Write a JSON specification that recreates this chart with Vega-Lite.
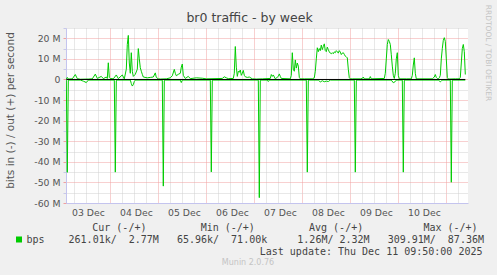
{
  "$schema": "https://vega.github.io/schema/vega-lite/v6.json",
  "width": 402,
  "height": 175,
  "autosize": {"type": "none"},
  "padding": {"left": 66, "top": 28, "right": 29, "bottom": 72},
  "background": "#f0f0f0",
  "title": {"text": "Munin 2.0.76", "orient": "bottom", "anchor": "middle", "frame": "group", "dx": -19, "offset": 3, "font": "DejaVu Sans", "fontSize": 8, "fontWeight": "normal", "color": "#c4c4c4"},
  "config": {
    "font": "DejaVu Sans",
    "view": {"fill": "white", "stroke": null}
  },
  "resolve": {"axis": {"x": "independent", "y": "independent"}},
  "layer": [
    {
      "data": {"values": [
        {"time":"2025-12-03T02:00:00Z","dir":"out","mbps":0.3},
        {"time":"2025-12-03T02:30:00Z","dir":"out","mbps":1.0},
        {"time":"2025-12-03T03:00:00Z","dir":"out","mbps":0.2},
        {"time":"2025-12-03T05:00:00Z","dir":"out","mbps":0.3},
        {"time":"2025-12-03T06:30:00Z","dir":"out","mbps":2.4},
        {"time":"2025-12-03T07:30:00Z","dir":"out","mbps":0.4},
        {"time":"2025-12-03T09:00:00Z","dir":"out","mbps":0.1},
        {"time":"2025-12-03T13:00:00Z","dir":"out","mbps":0.2},
        {"time":"2025-12-03T15:00:00Z","dir":"out","mbps":0.3},
        {"time":"2025-12-03T16:30:00Z","dir":"out","mbps":2.6},
        {"time":"2025-12-03T17:30:00Z","dir":"out","mbps":0.5},
        {"time":"2025-12-03T19:30:00Z","dir":"out","mbps":1.5},
        {"time":"2025-12-03T20:30:00Z","dir":"out","mbps":0.4},
        {"time":"2025-12-03T22:00:00Z","dir":"out","mbps":1.2},
        {"time":"2025-12-03T22:30:00Z","dir":"out","mbps":0.5},
        {"time":"2025-12-03T23:00:00Z","dir":"out","mbps":8.1},
        {"time":"2025-12-03T23:30:00Z","dir":"out","mbps":1.0},
        {"time":"2025-12-04T00:00:00Z","dir":"out","mbps":0.5},
        {"time":"2025-12-04T01:30:00Z","dir":"out","mbps":0.3},
        {"time":"2025-12-04T03:00:00Z","dir":"out","mbps":2.2},
        {"time":"2025-12-04T04:00:00Z","dir":"out","mbps":0.4},
        {"time":"2025-12-04T06:00:00Z","dir":"out","mbps":2.2},
        {"time":"2025-12-04T07:00:00Z","dir":"out","mbps":0.3},
        {"time":"2025-12-04T08:00:00Z","dir":"out","mbps":5},
        {"time":"2025-12-04T08:30:00Z","dir":"out","mbps":17},
        {"time":"2025-12-04T09:00:00Z","dir":"out","mbps":21.4},
        {"time":"2025-12-04T09:30:00Z","dir":"out","mbps":8},
        {"time":"2025-12-04T10:00:00Z","dir":"out","mbps":3},
        {"time":"2025-12-04T10:30:00Z","dir":"out","mbps":13},
        {"time":"2025-12-04T11:00:00Z","dir":"out","mbps":4},
        {"time":"2025-12-04T11:30:00Z","dir":"out","mbps":1.5},
        {"time":"2025-12-04T12:30:00Z","dir":"out","mbps":2.5},
        {"time":"2025-12-04T13:30:00Z","dir":"out","mbps":5},
        {"time":"2025-12-04T14:00:00Z","dir":"out","mbps":15},
        {"time":"2025-12-04T14:30:00Z","dir":"out","mbps":10},
        {"time":"2025-12-04T15:00:00Z","dir":"out","mbps":5.7},
        {"time":"2025-12-04T15:30:00Z","dir":"out","mbps":4},
        {"time":"2025-12-04T16:00:00Z","dir":"out","mbps":2.5},
        {"time":"2025-12-04T16:30:00Z","dir":"out","mbps":1.2},
        {"time":"2025-12-04T18:30:00Z","dir":"out","mbps":0.8},
        {"time":"2025-12-04T20:00:00Z","dir":"out","mbps":1.0},
        {"time":"2025-12-04T21:30:00Z","dir":"out","mbps":1.2},
        {"time":"2025-12-04T22:30:00Z","dir":"out","mbps":3.2},
        {"time":"2025-12-04T23:00:00Z","dir":"out","mbps":1.0},
        {"time":"2025-12-05T00:00:00Z","dir":"out","mbps":0.3},
        {"time":"2025-12-05T01:00:00Z","dir":"out","mbps":0.2},
        {"time":"2025-12-05T04:00:00Z","dir":"out","mbps":0.3},
        {"time":"2025-12-05T06:00:00Z","dir":"out","mbps":0.8},
        {"time":"2025-12-05T07:00:00Z","dir":"out","mbps":1.8},
        {"time":"2025-12-05T08:00:00Z","dir":"out","mbps":4.9},
        {"time":"2025-12-05T08:30:00Z","dir":"out","mbps":3},
        {"time":"2025-12-05T09:00:00Z","dir":"out","mbps":1.8},
        {"time":"2025-12-05T10:00:00Z","dir":"out","mbps":2.5},
        {"time":"2025-12-05T11:00:00Z","dir":"out","mbps":3},
        {"time":"2025-12-05T11:30:00Z","dir":"out","mbps":6},
        {"time":"2025-12-05T12:00:00Z","dir":"out","mbps":7.5},
        {"time":"2025-12-05T12:30:00Z","dir":"out","mbps":2},
        {"time":"2025-12-05T13:30:00Z","dir":"out","mbps":0.5},
        {"time":"2025-12-05T15:00:00Z","dir":"out","mbps":1.5},
        {"time":"2025-12-05T16:00:00Z","dir":"out","mbps":0.4},
        {"time":"2025-12-05T19:00:00Z","dir":"out","mbps":0.8},
        {"time":"2025-12-05T22:00:00Z","dir":"out","mbps":0.6},
        {"time":"2025-12-06T00:00:00Z","dir":"out","mbps":0.3},
        {"time":"2025-12-06T08:00:00Z","dir":"out","mbps":0.5},
        {"time":"2025-12-06T09:00:00Z","dir":"out","mbps":1.3},
        {"time":"2025-12-06T10:00:00Z","dir":"out","mbps":0.8},
        {"time":"2025-12-06T11:00:00Z","dir":"out","mbps":0.4},
        {"time":"2025-12-06T13:30:00Z","dir":"out","mbps":0.5},
        {"time":"2025-12-06T14:00:00Z","dir":"out","mbps":3},
        {"time":"2025-12-06T14:30:00Z","dir":"out","mbps":16},
        {"time":"2025-12-06T15:00:00Z","dir":"out","mbps":6},
        {"time":"2025-12-06T15:30:00Z","dir":"out","mbps":1.5},
        {"time":"2025-12-06T16:00:00Z","dir":"out","mbps":4},
        {"time":"2025-12-06T16:30:00Z","dir":"out","mbps":3.5},
        {"time":"2025-12-06T17:00:00Z","dir":"out","mbps":4.6},
        {"time":"2025-12-06T17:30:00Z","dir":"out","mbps":2},
        {"time":"2025-12-06T18:00:00Z","dir":"out","mbps":3},
        {"time":"2025-12-06T18:30:00Z","dir":"out","mbps":4.4},
        {"time":"2025-12-06T19:00:00Z","dir":"out","mbps":2},
        {"time":"2025-12-06T19:30:00Z","dir":"out","mbps":1.3},
        {"time":"2025-12-06T20:30:00Z","dir":"out","mbps":1.0},
        {"time":"2025-12-06T21:30:00Z","dir":"out","mbps":1.2},
        {"time":"2025-12-06T23:00:00Z","dir":"out","mbps":0.3},
        {"time":"2025-12-07T01:00:00Z","dir":"out","mbps":0.2},
        {"time":"2025-12-07T04:00:00Z","dir":"out","mbps":0.3},
        {"time":"2025-12-07T08:00:00Z","dir":"out","mbps":0.5},
        {"time":"2025-12-07T08:30:00Z","dir":"out","mbps":2.4},
        {"time":"2025-12-07T09:00:00Z","dir":"out","mbps":1.5},
        {"time":"2025-12-07T09:30:00Z","dir":"out","mbps":2.2},
        {"time":"2025-12-07T10:30:00Z","dir":"out","mbps":0.3},
        {"time":"2025-12-07T12:00:00Z","dir":"out","mbps":1.5},
        {"time":"2025-12-07T12:30:00Z","dir":"out","mbps":2.7},
        {"time":"2025-12-07T13:00:00Z","dir":"out","mbps":1.5},
        {"time":"2025-12-07T13:30:00Z","dir":"out","mbps":0.5},
        {"time":"2025-12-07T18:00:00Z","dir":"out","mbps":0.3},
        {"time":"2025-12-07T18:30:00Z","dir":"out","mbps":2},
        {"time":"2025-12-07T19:00:00Z","dir":"out","mbps":13},
        {"time":"2025-12-07T19:30:00Z","dir":"out","mbps":5},
        {"time":"2025-12-07T20:00:00Z","dir":"out","mbps":4},
        {"time":"2025-12-07T20:30:00Z","dir":"out","mbps":9.5},
        {"time":"2025-12-07T21:00:00Z","dir":"out","mbps":5.5},
        {"time":"2025-12-07T21:30:00Z","dir":"out","mbps":8},
        {"time":"2025-12-07T22:00:00Z","dir":"out","mbps":6.5},
        {"time":"2025-12-07T22:30:00Z","dir":"out","mbps":1},
        {"time":"2025-12-07T23:00:00Z","dir":"out","mbps":0.3},
        {"time":"2025-12-08T01:00:00Z","dir":"out","mbps":0.3},
        {"time":"2025-12-08T05:00:00Z","dir":"out","mbps":0.3},
        {"time":"2025-12-08T06:00:00Z","dir":"out","mbps":0.8},
        {"time":"2025-12-08T06:30:00Z","dir":"out","mbps":4},
        {"time":"2025-12-08T07:00:00Z","dir":"out","mbps":10},
        {"time":"2025-12-08T07:30:00Z","dir":"out","mbps":15.4},
        {"time":"2025-12-08T08:00:00Z","dir":"out","mbps":13.5},
        {"time":"2025-12-08T08:30:00Z","dir":"out","mbps":15},
        {"time":"2025-12-08T09:00:00Z","dir":"out","mbps":14},
        {"time":"2025-12-08T09:30:00Z","dir":"out","mbps":16.7},
        {"time":"2025-12-08T10:00:00Z","dir":"out","mbps":14.5},
        {"time":"2025-12-08T10:30:00Z","dir":"out","mbps":16},
        {"time":"2025-12-08T11:00:00Z","dir":"out","mbps":17.3},
        {"time":"2025-12-08T11:30:00Z","dir":"out","mbps":14},
        {"time":"2025-12-08T12:00:00Z","dir":"out","mbps":13.5},
        {"time":"2025-12-08T12:30:00Z","dir":"out","mbps":15.7},
        {"time":"2025-12-08T13:00:00Z","dir":"out","mbps":14.5},
        {"time":"2025-12-08T13:30:00Z","dir":"out","mbps":13.4},
        {"time":"2025-12-08T14:00:00Z","dir":"out","mbps":12.8},
        {"time":"2025-12-08T14:30:00Z","dir":"out","mbps":12.5},
        {"time":"2025-12-08T15:00:00Z","dir":"out","mbps":13},
        {"time":"2025-12-08T15:30:00Z","dir":"out","mbps":12.5},
        {"time":"2025-12-08T16:00:00Z","dir":"out","mbps":13.4},
        {"time":"2025-12-08T16:30:00Z","dir":"out","mbps":13},
        {"time":"2025-12-08T17:00:00Z","dir":"out","mbps":14},
        {"time":"2025-12-08T17:30:00Z","dir":"out","mbps":13.5},
        {"time":"2025-12-08T18:00:00Z","dir":"out","mbps":12.8},
        {"time":"2025-12-08T18:30:00Z","dir":"out","mbps":14},
        {"time":"2025-12-08T19:00:00Z","dir":"out","mbps":13.3},
        {"time":"2025-12-08T19:30:00Z","dir":"out","mbps":12.1},
        {"time":"2025-12-08T20:00:00Z","dir":"out","mbps":12.8},
        {"time":"2025-12-08T20:30:00Z","dir":"out","mbps":13},
        {"time":"2025-12-08T21:00:00Z","dir":"out","mbps":12.2},
        {"time":"2025-12-08T21:30:00Z","dir":"out","mbps":11.3},
        {"time":"2025-12-08T22:00:00Z","dir":"out","mbps":11},
        {"time":"2025-12-08T22:30:00Z","dir":"out","mbps":10.5},
        {"time":"2025-12-08T23:00:00Z","dir":"out","mbps":5},
        {"time":"2025-12-08T23:30:00Z","dir":"out","mbps":0.8},
        {"time":"2025-12-09T00:00:00Z","dir":"out","mbps":0.3},
        {"time":"2025-12-09T01:00:00Z","dir":"out","mbps":0.3},
        {"time":"2025-12-09T05:00:00Z","dir":"out","mbps":0.3},
        {"time":"2025-12-09T06:00:00Z","dir":"out","mbps":0.5},
        {"time":"2025-12-09T06:30:00Z","dir":"out","mbps":1.2},
        {"time":"2025-12-09T07:00:00Z","dir":"out","mbps":0.3},
        {"time":"2025-12-09T09:30:00Z","dir":"out","mbps":0.3},
        {"time":"2025-12-09T10:00:00Z","dir":"out","mbps":1.4},
        {"time":"2025-12-09T10:30:00Z","dir":"out","mbps":0.3},
        {"time":"2025-12-09T17:00:00Z","dir":"out","mbps":0.5},
        {"time":"2025-12-09T17:30:00Z","dir":"out","mbps":3},
        {"time":"2025-12-09T18:00:00Z","dir":"out","mbps":10},
        {"time":"2025-12-09T18:30:00Z","dir":"out","mbps":17},
        {"time":"2025-12-09T19:00:00Z","dir":"out","mbps":19.4},
        {"time":"2025-12-09T19:30:00Z","dir":"out","mbps":18.5},
        {"time":"2025-12-09T20:00:00Z","dir":"out","mbps":17},
        {"time":"2025-12-09T20:30:00Z","dir":"out","mbps":12},
        {"time":"2025-12-09T21:00:00Z","dir":"out","mbps":6.5},
        {"time":"2025-12-09T21:30:00Z","dir":"out","mbps":2},
        {"time":"2025-12-09T22:00:00Z","dir":"out","mbps":0.5},
        {"time":"2025-12-09T22:30:00Z","dir":"out","mbps":3},
        {"time":"2025-12-09T23:00:00Z","dir":"out","mbps":10},
        {"time":"2025-12-09T23:30:00Z","dir":"out","mbps":13},
        {"time":"2025-12-10T00:00:00Z","dir":"out","mbps":2},
        {"time":"2025-12-10T00:30:00Z","dir":"out","mbps":0.3},
        {"time":"2025-12-10T04:00:00Z","dir":"out","mbps":0.3},
        {"time":"2025-12-10T06:30:00Z","dir":"out","mbps":0.3},
        {"time":"2025-12-10T07:00:00Z","dir":"out","mbps":2},
        {"time":"2025-12-10T07:30:00Z","dir":"out","mbps":7},
        {"time":"2025-12-10T08:00:00Z","dir":"out","mbps":10.5},
        {"time":"2025-12-10T08:30:00Z","dir":"out","mbps":3},
        {"time":"2025-12-10T09:00:00Z","dir":"out","mbps":0.3},
        {"time":"2025-12-10T17:00:00Z","dir":"out","mbps":0.3},
        {"time":"2025-12-10T18:00:00Z","dir":"out","mbps":1.2},
        {"time":"2025-12-10T18:30:00Z","dir":"out","mbps":2.4},
        {"time":"2025-12-10T19:00:00Z","dir":"out","mbps":1.0},
        {"time":"2025-12-10T19:30:00Z","dir":"out","mbps":0.5},
        {"time":"2025-12-10T20:00:00Z","dir":"out","mbps":0.3},
        {"time":"2025-12-10T20:30:00Z","dir":"out","mbps":0.8},
        {"time":"2025-12-10T21:00:00Z","dir":"out","mbps":2},
        {"time":"2025-12-10T21:30:00Z","dir":"out","mbps":10},
        {"time":"2025-12-10T22:00:00Z","dir":"out","mbps":15},
        {"time":"2025-12-10T22:30:00Z","dir":"out","mbps":19},
        {"time":"2025-12-10T23:00:00Z","dir":"out","mbps":20.3},
        {"time":"2025-12-10T23:30:00Z","dir":"out","mbps":18.5},
        {"time":"2025-12-11T00:00:00Z","dir":"out","mbps":10},
        {"time":"2025-12-11T00:30:00Z","dir":"out","mbps":1},
        {"time":"2025-12-11T01:00:00Z","dir":"out","mbps":0.2},
        {"time":"2025-12-11T04:30:00Z","dir":"out","mbps":0.3},
        {"time":"2025-12-11T06:30:00Z","dir":"out","mbps":0.3},
        {"time":"2025-12-11T07:00:00Z","dir":"out","mbps":1},
        {"time":"2025-12-11T07:30:00Z","dir":"out","mbps":8},
        {"time":"2025-12-11T08:00:00Z","dir":"out","mbps":15},
        {"time":"2025-12-11T08:30:00Z","dir":"out","mbps":17},
        {"time":"2025-12-11T09:00:00Z","dir":"out","mbps":13.5},
        {"time":"2025-12-11T09:30:00Z","dir":"out","mbps":2.4},
        {"time":"2025-12-03T02:00:00Z","dir":"in","mbps":-0.3},
        {"time":"2025-12-03T02:30:00Z","dir":"in","mbps":-45.1},
        {"time":"2025-12-03T03:00:00Z","dir":"in","mbps":-0.3},
        {"time":"2025-12-03T09:00:00Z","dir":"in","mbps":-0.3},
        {"time":"2025-12-03T10:30:00Z","dir":"in","mbps":-0.8},
        {"time":"2025-12-03T12:00:00Z","dir":"in","mbps":-1.5},
        {"time":"2025-12-03T13:00:00Z","dir":"in","mbps":-0.3},
        {"time":"2025-12-04T02:00:00Z","dir":"in","mbps":-0.3},
        {"time":"2025-12-04T02:30:00Z","dir":"in","mbps":-45},
        {"time":"2025-12-04T03:00:00Z","dir":"in","mbps":-0.3},
        {"time":"2025-12-04T10:00:00Z","dir":"in","mbps":-0.3},
        {"time":"2025-12-04T10:30:00Z","dir":"in","mbps":-2},
        {"time":"2025-12-04T11:00:00Z","dir":"in","mbps":-3.2},
        {"time":"2025-12-04T11:30:00Z","dir":"in","mbps":-2.5},
        {"time":"2025-12-04T12:00:00Z","dir":"in","mbps":-1},
        {"time":"2025-12-04T12:30:00Z","dir":"in","mbps":-0.3},
        {"time":"2025-12-05T02:00:00Z","dir":"in","mbps":-0.3},
        {"time":"2025-12-05T02:30:00Z","dir":"in","mbps":-51.8},
        {"time":"2025-12-05T03:00:00Z","dir":"in","mbps":-0.3},
        {"time":"2025-12-05T11:00:00Z","dir":"in","mbps":-0.3},
        {"time":"2025-12-05T11:30:00Z","dir":"in","mbps":-1.5},
        {"time":"2025-12-05T12:00:00Z","dir":"in","mbps":-0.3},
        {"time":"2025-12-06T02:00:00Z","dir":"in","mbps":-0.3},
        {"time":"2025-12-06T02:30:00Z","dir":"in","mbps":-44.9},
        {"time":"2025-12-06T03:00:00Z","dir":"in","mbps":-0.3},
        {"time":"2025-12-07T02:00:00Z","dir":"in","mbps":-0.3},
        {"time":"2025-12-07T02:30:00Z","dir":"in","mbps":-57.4},
        {"time":"2025-12-07T03:00:00Z","dir":"in","mbps":-0.3},
        {"time":"2025-12-07T06:30:00Z","dir":"in","mbps":-0.3},
        {"time":"2025-12-07T07:00:00Z","dir":"in","mbps":-1},
        {"time":"2025-12-07T07:30:00Z","dir":"in","mbps":-0.3},
        {"time":"2025-12-08T02:00:00Z","dir":"in","mbps":-0.3},
        {"time":"2025-12-08T02:30:00Z","dir":"in","mbps":-45},
        {"time":"2025-12-08T03:00:00Z","dir":"in","mbps":-0.3},
        {"time":"2025-12-08T08:00:00Z","dir":"in","mbps":-0.3},
        {"time":"2025-12-08T09:00:00Z","dir":"in","mbps":-1.2},
        {"time":"2025-12-08T10:00:00Z","dir":"in","mbps":-0.6},
        {"time":"2025-12-08T11:00:00Z","dir":"in","mbps":-1.1},
        {"time":"2025-12-08T12:00:00Z","dir":"in","mbps":-0.8},
        {"time":"2025-12-08T13:00:00Z","dir":"in","mbps":-1.0},
        {"time":"2025-12-08T14:00:00Z","dir":"in","mbps":-0.3},
        {"time":"2025-12-09T02:00:00Z","dir":"in","mbps":-0.3},
        {"time":"2025-12-09T02:30:00Z","dir":"in","mbps":-45},
        {"time":"2025-12-09T03:00:00Z","dir":"in","mbps":-0.3},
        {"time":"2025-12-09T20:30:00Z","dir":"in","mbps":-0.3},
        {"time":"2025-12-09T21:30:00Z","dir":"in","mbps":-1.6},
        {"time":"2025-12-09T22:30:00Z","dir":"in","mbps":-1.0},
        {"time":"2025-12-09T23:00:00Z","dir":"in","mbps":-0.3},
        {"time":"2025-12-10T02:00:00Z","dir":"in","mbps":-0.3},
        {"time":"2025-12-10T02:30:00Z","dir":"in","mbps":-45},
        {"time":"2025-12-10T03:00:00Z","dir":"in","mbps":-0.3},
        {"time":"2025-12-10T20:00:00Z","dir":"in","mbps":-0.3},
        {"time":"2025-12-10T21:00:00Z","dir":"in","mbps":-1.1},
        {"time":"2025-12-10T21:30:00Z","dir":"in","mbps":-0.8},
        {"time":"2025-12-10T22:00:00Z","dir":"in","mbps":-0.3},
        {"time":"2025-12-11T02:00:00Z","dir":"in","mbps":-0.3},
        {"time":"2025-12-11T02:30:00Z","dir":"in","mbps":-49.9},
        {"time":"2025-12-11T03:00:00Z","dir":"in","mbps":-0.3},
        {"time":"2025-12-11T09:30:00Z","dir":"in","mbps":-0.3}
      ]},
      "mark": {"type": "line", "strokeWidth": 1, "clip": true},
      "encoding": {
        "x": {
          "field": "time", "type": "temporal",
          "scale": {"type": "utc", "domain": [
            {"year": 2025, "month": 12, "date": 3, "hours": 1, "minutes": 51, "utc": true},
            {"year": 2025, "month": 12, "date": 11, "hours": 10, "minutes": 51, "utc": true}
          ]},
          "axis": {
            "orient": "bottom",
            "values": [
              {"year": 2025, "month": 12, "date": 3, "hours": 12, "minutes": 50, "utc": true},
              {"year": 2025, "month": 12, "date": 4, "hours": 12, "minutes": 50, "utc": true},
              {"year": 2025, "month": 12, "date": 5, "hours": 12, "minutes": 50, "utc": true},
              {"year": 2025, "month": 12, "date": 6, "hours": 12, "minutes": 50, "utc": true},
              {"year": 2025, "month": 12, "date": 7, "hours": 12, "minutes": 50, "utc": true},
              {"year": 2025, "month": 12, "date": 8, "hours": 12, "minutes": 50, "utc": true},
              {"year": 2025, "month": 12, "date": 9, "hours": 12, "minutes": 50, "utc": true},
              {"year": 2025, "month": 12, "date": 10, "hours": 12, "minutes": 50, "utc": true}
            ],
            "labelExpr": "utcFormat(datum.value, '%d %b')",
            "grid": false, "ticks": false,
            "domain": true, "domainColor": "#c4c4ee", "domainWidth": 1,
            "labelFont": "DejaVu Sans", "labelFontSize": 9.3, "labelColor": "#555555", "labelPadding": 5,
            "labelOverlap": false, "labelFlush": false,
            "title": "Last update: Thu Dec 11 09:50:00 2025",
            "titleFont": "DejaVu Sans Mono", "titleFontSize": 10, "titleFontWeight": "normal", "titleColor": "#444444",
            "titleX": 416, "titleY": 51, "titleAlign": "right", "titleBaseline": "alphabetic"
          }
        },
        "y": {
          "field": "mbps", "type": "quantitative",
          "scale": {"domain": [-60, 25], "nice": false, "zero": false},
          "axis": {
            "orient": "left",
            "values": [-60, -55, -50, -45, -40, -35, -30, -25, -20, -15, -10, -5, 0, 5, 10, 15, 20, 25],
            "labelExpr": "datum.value % 10 == 0 ? (datum.value == 0 ? '0' : datum.value + ' M') : ''",
            "grid": true,
            "gridColor": {"condition": {"test": "datum.value % 10 == 0", "value": "#f0a0a0"}, "value": "#d0d0d0"},
            "gridDash": [1, 1],
            "ticks": true, "tickSize": 3,
            "tickColor": {"condition": {"test": "datum.value % 10 == 0", "value": "#f0a0a0"}, "value": "#c8c8e8"},
            "domain": true, "domainColor": "#c4c4ee",
            "labelFont": "DejaVu Sans", "labelFontSize": 9.3, "labelColor": "#555555", "labelPadding": 3,
            "title": "bits in (-) / out (+) per second",
            "titleFont": "DejaVu Sans", "titleFontSize": 10.5, "titleFontWeight": "normal", "titleColor": "#555555",
            "titleX": -55.5, "titleY": 82, "titleAngle": -90, "titleAlign": "center", "titleBaseline": "middle"
          }
        },
        "detail": {"field": "dir"},
        "color": {
          "datum": "bps",
          "scale": {"range": ["#00cc00"]},
          "legend": {
            "orient": "none", "legendX": -52, "legendY": 195, "direction": "vertical", "padding": 0,
            "title": "\u200b\u00a0\u00a0\u00a0\u00a0\u00a0\u00a0\u00a0\u00a0\u00a0\u00a0\u00a0\u00a0\u00a0Cur\u00a0(-/+)\u00a0\u00a0\u00a0\u00a0\u00a0\u00a0\u00a0\u00a0\u00a0Min\u00a0(-/+)\u00a0\u00a0\u00a0\u00a0\u00a0\u00a0\u00a0\u00a0\u00a0Avg\u00a0(-/+)\u00a0\u00a0\u00a0\u00a0\u00a0\u00a0\u00a0\u00a0\u00a0\u00a0Max\u00a0(-/+)",
            "titleFont": "DejaVu Sans Mono", "titleFontSize": 10, "titleFontWeight": "normal", "titleColor": "#444444",
            "titleLimit": 0, "titlePadding": 1.5, "titleAnchor": "start",
            "labelExpr": "'bps\u00a0\u00a0\u00a0\u00a0261.01k/\u00a0\u00a02.77M\u00a0\u00a0\u00a065.96k/\u00a0\u00a071.00k\u00a0\u00a0\u00a0\u00a0\u00a01.26M/\u00a02.32M\u00a0\u00a0\u00a0309.91M/\u00a0\u00a087.36M'",
            "labelFont": "DejaVu Sans Mono", "labelFontSize": 10, "labelColor": "#444444", "labelLimit": 0, "labelOffset": 2.4,
            "symbolType": "square", "symbolSize": 36, "symbolFillColor": "#00cc00", "symbolStrokeColor": "#00cc00", "symbolStrokeWidth": 0, "symbolOffset": 0
          }
        }
      }
    },
    {
      "data": {"values": [{"start": "2025-12-03T02:00:00Z", "end": "2025-12-11T09:30:00Z", "zero": 0}]},
      "mark": {"type": "rule", "color": "#000000", "strokeWidth": 1},
      "encoding": {
        "x": {
          "field": "start", "type": "temporal",
          "scale": {"type": "utc", "domain": [
            {"year": 2025, "month": 12, "date": 3, "hours": 1, "minutes": 51, "utc": true},
            {"year": 2025, "month": 12, "date": 11, "hours": 10, "minutes": 51, "utc": true}
          ]},
          "axis": {
            "orient": "top",
            "values": [
              {"year": 2025, "month": 12, "date": 3, "hours": 6, "utc": true},
              {"year": 2025, "month": 12, "date": 3, "hours": 12, "utc": true},
              {"year": 2025, "month": 12, "date": 3, "hours": 18, "utc": true},
              {"year": 2025, "month": 12, "date": 4, "hours": 0, "utc": true},
              {"year": 2025, "month": 12, "date": 4, "hours": 6, "utc": true},
              {"year": 2025, "month": 12, "date": 4, "hours": 12, "utc": true},
              {"year": 2025, "month": 12, "date": 4, "hours": 18, "utc": true},
              {"year": 2025, "month": 12, "date": 5, "hours": 0, "utc": true},
              {"year": 2025, "month": 12, "date": 5, "hours": 6, "utc": true},
              {"year": 2025, "month": 12, "date": 5, "hours": 12, "utc": true},
              {"year": 2025, "month": 12, "date": 5, "hours": 18, "utc": true},
              {"year": 2025, "month": 12, "date": 6, "hours": 0, "utc": true},
              {"year": 2025, "month": 12, "date": 6, "hours": 6, "utc": true},
              {"year": 2025, "month": 12, "date": 6, "hours": 12, "utc": true},
              {"year": 2025, "month": 12, "date": 6, "hours": 18, "utc": true},
              {"year": 2025, "month": 12, "date": 7, "hours": 0, "utc": true},
              {"year": 2025, "month": 12, "date": 7, "hours": 6, "utc": true},
              {"year": 2025, "month": 12, "date": 7, "hours": 12, "utc": true},
              {"year": 2025, "month": 12, "date": 7, "hours": 18, "utc": true},
              {"year": 2025, "month": 12, "date": 8, "hours": 0, "utc": true},
              {"year": 2025, "month": 12, "date": 8, "hours": 6, "utc": true},
              {"year": 2025, "month": 12, "date": 8, "hours": 12, "utc": true},
              {"year": 2025, "month": 12, "date": 8, "hours": 18, "utc": true},
              {"year": 2025, "month": 12, "date": 9, "hours": 0, "utc": true},
              {"year": 2025, "month": 12, "date": 9, "hours": 6, "utc": true},
              {"year": 2025, "month": 12, "date": 9, "hours": 12, "utc": true},
              {"year": 2025, "month": 12, "date": 9, "hours": 18, "utc": true},
              {"year": 2025, "month": 12, "date": 10, "hours": 0, "utc": true},
              {"year": 2025, "month": 12, "date": 10, "hours": 6, "utc": true},
              {"year": 2025, "month": 12, "date": 10, "hours": 12, "utc": true},
              {"year": 2025, "month": 12, "date": 10, "hours": 18, "utc": true},
              {"year": 2025, "month": 12, "date": 11, "hours": 0, "utc": true},
              {"year": 2025, "month": 12, "date": 11, "hours": 6, "utc": true}
            ],
            "grid": true,
            "gridColor": {"condition": {"test": "utchours(datum.value) == 0", "value": "#f0a0a0"}, "value": "#d0d0d0"},
            "gridDash": [1, 1],
            "labels": false, "ticks": false, "domain": false,
            "title": "br0 traffic - by week",
            "titleFont": "DejaVu Sans", "titleFontSize": 12.5, "titleFontWeight": "normal", "titleColor": "#444444",
            "titleX": 183, "titleY": -6.5, "titleAlign": "center", "titleBaseline": "alphabetic"
          }
        },
        "x2": {"field": "end"},
        "y": {
          "field": "zero", "type": "quantitative",
          "scale": {"domain": [-60, 25], "nice": false, "zero": false},
          "axis": {
            "orient": "right", "grid": false, "labels": false, "ticks": false, "domain": false,
            "title": "RRDTOOL / TOBI OETIKER",
            "titleFont": "DejaVu Sans", "titleFontSize": 7.5, "titleFontWeight": "normal", "titleColor": "#c4c4c4",
            "titleX": 19.5, "titleY": 24.5, "titleAngle": 90, "titleAlign": "center", "titleBaseline": "middle"
          }
        }
      }
    }
  ]
}
